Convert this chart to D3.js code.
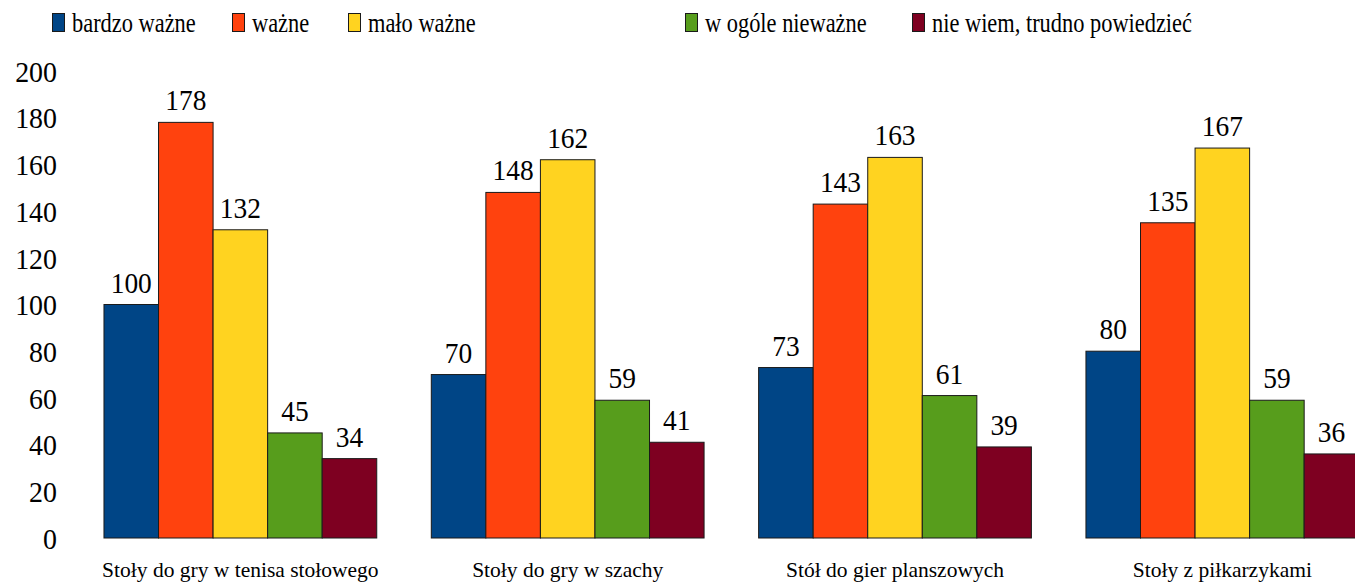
<!DOCTYPE html>
<html lang="pl">
<head>
<meta charset="UTF-8">
<title>Stoły</title>
<style>
body { margin: 0; background: #fff; }
svg { display: block; }
svg text { font-family: "Liberation Serif", "Times New Roman", serif !important; fill: #000; }
</style>
</head>
<body>
<svg id="chart" width="1355" height="582"></svg>
<script src="https://d3js.org/d3.v7.min.js"></script>
<script>
const categories = ["Stoły do gry w tenisa stołowego", "Stoły do gry w szachy", "Stół do gier planszowych", "Stoły z piłkarzykami"];
const seriesNames = ["bardzo ważne", "ważne", "mało ważne", "w ogóle nieważne", "nie wiem, trudno powiedzieć"];
const seriesColors = ["#004586", "#ff420e", "#ffd320", "#579d1c", "#7e0021"];
const bardzoWazne = [100, 70, 73, 80];
const wazne = [178, 148, 143, 135];
const maloWazne = [132, 162, 163, 167];
const wOgoleNiewazne = [45, 59, 61, 59];
const nieWiem = [34, 41, 39, 36];
const yTicks = [0, 20, 40, 60, 80, 100, 120, 140, 160, 180, 200];
const legendX = [52, 232, 348, 685, 912];

const seriesValues = [bardzoWazne, wazne, maloWazne, wOgoleNiewazne, nieWiem];

// the source text is a bit narrow, squeeze it horizontally
const numSx = 0.93, legSx = 0.83;

const svg = d3.select("#chart");

const x0 = d3.scaleBand()
  .domain(categories)
  .range([76.7, 1386])
  .paddingInner(1 / 6)
  .paddingOuter(1 / 12);

const x1 = d3.scaleBand()
  .domain(seriesNames)
  .range([0, x0.bandwidth()]);

const y = d3.scaleLinear()
  .domain([0, 200])
  .range([538, 71]);

// y axis, labels only
const yAxis = svg.append("g")
  .attr("transform", "translate(57,0)")
  .call(d3.axisLeft(y).tickValues(yTicks).tickSize(0).tickPadding(0));
yAxis.select(".domain").remove();
yAxis.selectAll("text")
  .attr("x", 0)
  .attr("dy", "0.34em")
  .attr("transform", "scale(" + numSx + ",1)")
  .style("font-size", "30px");

const groups = svg.selectAll(".grp")
  .data(categories)
  .enter()
  .append("g")
  .attr("class", "grp")
  .attr("transform", d => "translate(" + x0(d) + ",0)");

const cells = (d, i) => seriesNames.map((s, j) => ({ s: s, j: j, v: seriesValues[j][i] }));

groups.selectAll("rect")
  .data(cells)
  .enter()
  .append("rect")
  .attr("x", d => x1(d.s))
  .attr("y", d => y(d.v))
  .attr("width", x1.bandwidth())
  .attr("height", d => y(0) - y(d.v))
  .attr("fill", d => seriesColors[d.j])
  .attr("stroke", "#1a1a1a")
  .attr("stroke-width", 1);

groups.selectAll(".val")
  .data(cells)
  .enter()
  .append("text")
  .attr("class", "val")
  .attr("transform", d => "translate(" + (x1(d.s) + x1.bandwidth() / 2) + "," + (y(d.v) - 12) + ") scale(" + numSx + ",1)")
  .attr("text-anchor", "middle")
  .style("font-size", "29.5px")
  .text(d => d.v);

// category labels
svg.selectAll(".cat")
  .data(categories)
  .enter()
  .append("text")
  .attr("class", "cat")
  .attr("x", d => x0(d) + x0.bandwidth() / 2)
  .attr("y", 577)
  .attr("text-anchor", "middle")
  .style("font-size", "21.5px")
  .text(d => d);

// legend
const legend = svg.selectAll(".leg")
  .data(seriesNames)
  .enter()
  .append("g")
  .attr("class", "leg")
  .attr("transform", (d, i) => "translate(" + legendX[i] + ",0)");

legend.append("rect")
  .attr("x", 0.5)
  .attr("y", 13.5)
  .attr("width", 12)
  .attr("height", 18)
  .attr("fill", (d, i) => seriesColors[i])
  .attr("stroke", "#1a1a1a");

legend.append("text")
  .attr("transform", "translate(20,32) scale(" + legSx + ",1)")
  .style("font-size", "27px")
  .text(d => d);
</script>
</body>
</html>
